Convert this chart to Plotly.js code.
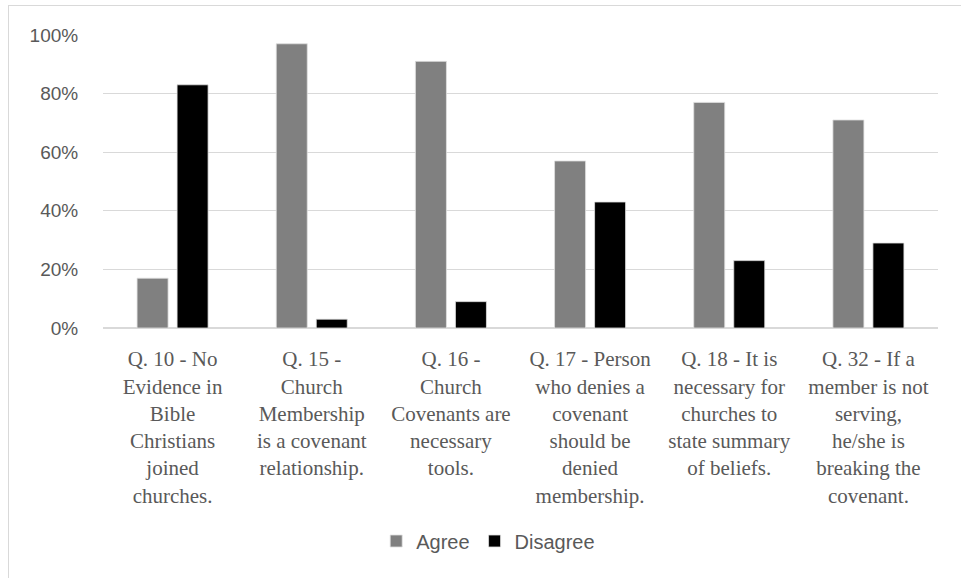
<!DOCTYPE html>
<html>
<head>
<meta charset="utf-8">
<script src="https://cdn.plot.ly/plotly-3.0.1.min.js"></script>
<style>
html,body{margin:0;padding:0;background:#fff;}
#wrap{position:relative;width:961px;height:578px;}
#chart{width:961px;height:578px;}
#frame{position:absolute;left:8px;top:5px;width:970px;height:590px;border:1px solid #d9d9d9;pointer-events:none;}
</style>
</head>
<body>
<div id="wrap"><div id="chart"></div><div id="frame"></div></div>
<script>
const categories = [
  "Q. 10 - No<br>Evidence in<br>Bible<br>Christians<br>joined<br>churches.",
  "Q. 15 -<br>Church<br>Membership<br>is a covenant<br>relationship.",
  "Q. 16 -<br>Church<br>Covenants are<br>necessary<br>tools.",
  "Q. 17 - Person<br>who denies a<br>covenant<br>should be<br>denied<br>membership.",
  "Q. 18 - It is<br>necessary for<br>churches to<br>state summary<br>of beliefs.",
  "Q. 32 - If a<br>member is not<br>serving,<br>he/she is<br>breaking the<br>covenant."
];
const agree = [0.17, 0.97, 0.91, 0.57, 0.77, 0.71];
const disagree = [0.83, 0.03, 0.09, 0.43, 0.23, 0.29];
const yTickVals = [0, 0.2, 0.4, 0.6, 0.8, 1.0];
const yTickText = ["0%", "20%", "40%", "60%", "80%", "100%"];

const traces = [
  {type:'bar', name:'Agree', x:categories, y:agree,
   marker:{color:'#808080', line:{color:'#e0e0e0', width:0.8}}},
  {type:'bar', name:'Disagree', x:categories, y:disagree,
   marker:{color:'#000000', line:{color:'#e0e0e0', width:0.8}}}
];

const layout = {
  width:961, height:578,
  margin:{l:103, r:23, t:35, b:250},
  paper_bgcolor:'#ffffff', plot_bgcolor:'#ffffff',
  barmode:'group', bargap:0.425, bargroupgap:0.225,
  showlegend:true,
  legend:{orientation:'h', xref:'container', yref:'container', x:0.508, xanchor:'center', y:0.064, yanchor:'middle',
          font:{family:'Liberation Sans, Arial, sans-serif', size:20, color:'#595959'},
          itemwidth:30, traceorder:'normal'},
  xaxis:{type:'category', showgrid:false, zeroline:false, showline:false,
         ticks:'outside', ticklen:12, tickcolor:'rgba(0,0,0,0)',
         tickfont:{family:'Liberation Serif, Times New Roman, serif', size:21, color:'#595959'},
         tickangle:0, automargin:false},
  yaxis:{range:[0,1.0], tickvals:yTickVals, ticktext:yTickText,
         showgrid:true, gridcolor:'#d9d9d9', gridwidth:1.2,
         zeroline:true, zerolinecolor:'#d9d9d9', zerolinewidth:1.2, showline:false,
         ticks:'outside', ticklen:20, tickcolor:'rgba(0,0,0,0)',
         tickfont:{family:'Liberation Sans, Arial, sans-serif', size:19, color:'#595959'},
         automargin:false}
};

Plotly.newPlot('chart', traces, layout, {displayModeBar:false, staticPlot:true});
</script>
</body>
</html>
